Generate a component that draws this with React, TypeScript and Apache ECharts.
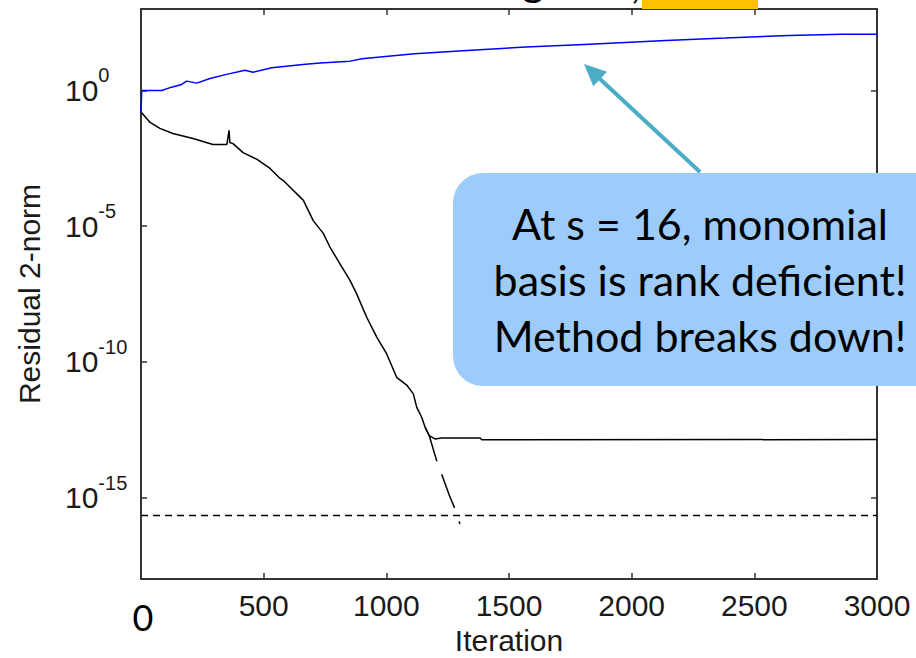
import React, { useEffect, useRef } from 'react';
import * as echarts from 'echarts';

// ---- data ----
const xTickValues = [0, 500, 1000, 1500, 2000, 2500, 3000];
const yTickValues = [1e-15, 1e-10, 1e-5, 1];

// monomial basis, s = 16 (blue)
const blueIter = [0, 3, 84, 125, 166, 186, 227, 281, 349, 424, 457, 533, 660, 730, 852, 900, 1115, 1329, 1569, 1806, 2140, 2380, 2641, 2857, 3000];
const blueRes = [0.155, 1.0, 1.0, 1.32, 1.66, 2.2, 1.86, 2.77, 3.9, 5.5, 4.7, 6.9, 9.1, 10.2, 12, 14.8, 22.5, 29.7, 39.5, 49.7, 69.8, 84.7, 106, 118, 118];

// reference solver (black, solid)
const blackIter = [0, 37, 77, 130, 212, 293, 350, 359, 362, 375, 416, 473, 526, 567, 580, 662, 702, 743, 770, 811, 852, 879, 920, 961, 1001, 1042, 1083, 1110, 1124, 1144, 1158, 1175, 1198, 1226, 1382, 1389, 3000];
const blackRes = [0.16, 0.066, 0.04, 0.026, 0.017, 0.0102, 0.0102, 0.034, 0.012, 0.011, 0.0051, 0.0029, 0.00134, 5.7e-4, 4.8e-4, 8.9e-5, 1.6e-5, 5.4e-6, 1.7e-6, 4.1e-7, 1.0e-7, 3.2e-8, 4.4e-9, 8.1e-10, 2.0e-10, 2.7e-11, 1.4e-11, 6.6e-12, 2.1e-12, 9.1e-13, 3.9e-13, 1.9e-13, 1.45e-13, 1.58e-13, 1.58e-13, 1.35e-13, 1.37e-13];

// true residual (black, dashed)
const dashIter = [1158, 1175, 1205, 1257, 1280, 1300];
const dashRes = [3.9e-13, 1.9e-13, 2.3e-14, 1.2e-15, 3.8e-16, 1.07e-16];

// machine precision (black, dotted)
const epsIter = [0, 3000];
const epsRes = [2.2e-16, 2.2e-16];

const pairs = (xs: number[], ys: number[]) => xs.map((x, i) => [x, ys[i]]);

export default function App() {
  const ref = useRef<HTMLDivElement>(null);
  useEffect(() => {
    document.body.style.margin = '0';
    const chart = echarts.init(ref.current!, null, { renderer: 'svg' });
    const font = "'Liberation Sans', Arial, sans-serif";
    const slideFont = "Lato, 'Open Sans', sans-serif";
    const axisColor = '#333333';
    const textColor = '#1a1a1a';
    const tickStyle = { color: axisColor, width: 1.5 };

    const xBase = {
      type: 'value',
      min: 0,
      max: 3000,
      interval: 500,
      splitLine: { show: false },
      axisLine: { show: true, onZero: false, lineStyle: { color: axisColor, width: 2 } },
      axisTick: { show: true, inside: true, length: 6, customValues: xTickValues, lineStyle: tickStyle },
    };
    const yBase = {
      type: 'log',
      logBase: 10,
      min: 1e-18,
      max: 1e3,
      splitLine: { show: false },
      minorTick: { show: false },
      axisLine: { show: true, onZero: false, lineStyle: { color: axisColor, width: 2 } },
      axisTick: { show: true, inside: true, length: 6, customValues: yTickValues, lineStyle: tickStyle },
    };

    chart.setOption({
      animation: false,
      grid: { left: 141, right: 39, top: 9, bottom: 79, containLabel: false, outerBoundsMode: 'none' },
      xAxis: [
        {
          ...xBase,
          position: 'bottom',
          name: 'Iteration',
          nameLocation: 'middle',
          nameGap: 46,
          nameTextStyle: { fontFamily: font, fontSize: 30, color: textColor },
          axisLabel: {
            margin: 11,
            fontFamily: font,
            fontSize: 30,
            color: textColor,
            formatter: (v: number) => (v === 0 ? '' : String(v)),
          },
        },
        { ...xBase, position: 'top', axisLabel: { show: false } },
      ],
      yAxis: [
        {
          ...yBase,
          position: 'left',
          name: 'Residual 2-norm',
          nameLocation: 'middle',
          nameGap: 97,
          nameTextStyle: { fontFamily: font, fontSize: 30, color: textColor },
          axisLabel: {
            customValues: yTickValues,
            align: 'left',
            margin: 76,
            formatter: (v: number) => `{b|10}{e|${Math.round(Math.log10(v))}}`,
            rich: {
              b: { fontFamily: font, fontSize: 30, lineHeight: 50, color: textColor },
              e: { fontFamily: font, fontSize: 20, lineHeight: 20, color: textColor, verticalAlign: 'top' },
            },
          },
        },
        { ...yBase, position: 'right', axisLabel: { show: false } },
      ],
      series: [
        {
          type: 'line',
          name: 'eps',
          data: pairs(epsIter, epsRes),
          showSymbol: false,
          lineStyle: { color: '#000', width: 1.5, type: [7, 5] },
        },
        {
          type: 'line',
          name: 'true residual',
          data: pairs(dashIter, dashRes),
          showSymbol: false,
          lineStyle: { color: '#000', width: 1.5, type: [36, 14] },
        },
        {
          type: 'line',
          name: 'reference',
          data: pairs(blackIter, blackRes),
          showSymbol: false,
          lineStyle: { color: '#000', width: 1.5 },
        },
        {
          type: 'line',
          name: 'monomial',
          data: pairs(blueIter, blueRes),
          showSymbol: false,
          lineStyle: { color: '#0000ff', width: 1.5 },
        },
      ],
      graphic: [
        { type: 'rect', z: 100, shape: { x: 642, y: 0, width: 116, height: 9 }, style: { fill: '#FFC000' } },
        { type: 'text', z: 100, x: 522, y: -21, style: { text: 'g', font: `43px ${slideFont}`, fill: '#000', textAlign: 'left', textVerticalAlign: 'middle' } },
        { type: 'text', z: 100, x: 631, y: -19, style: { text: ',', font: `43px ${slideFont}`, fill: '#000', textAlign: 'left', textVerticalAlign: 'middle' } },
        { type: 'rect', z: 100, shape: { x: 453, y: 173, width: 520, height: 213, r: 30 }, style: { fill: '#9DCCFA' } },
        { type: 'text', z: 101, x: 700, y: 223, style: { text: 'At s = 16, monomial', font: `43px ${slideFont}`, fill: '#000', textAlign: 'center', textVerticalAlign: 'middle' } },
        { type: 'text', z: 101, x: 700, y: 279, style: { text: 'basis is rank deficient!', font: `43px ${slideFont}`, fill: '#000', textAlign: 'center', textVerticalAlign: 'middle' } },
        { type: 'text', z: 101, x: 700, y: 335, style: { text: 'Method breaks down!', font: `43px ${slideFont}`, fill: '#000', textAlign: 'center', textVerticalAlign: 'middle' } },
        { type: 'line', z: 100, shape: { x1: 700, y1: 172, x2: 600, y2: 79 }, style: { stroke: '#4BACC6', lineWidth: 4 } },
        { type: 'polygon', z: 100, shape: { points: [[584, 64], [607, 71.7], [593.3, 86.3]] }, style: { fill: '#4BACC6' } },
        { type: 'text', z: 100, x: 143, y: 617, style: { text: '0', font: `36px ${slideFont}`, fill: '#000', textAlign: 'center', textVerticalAlign: 'middle' } },
      ],
    });
    return () => chart.dispose();
  }, []);
  return <div ref={ref} style={{ width: 916, height: 658 }} />;
}
